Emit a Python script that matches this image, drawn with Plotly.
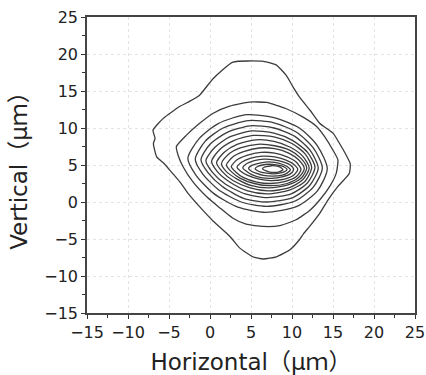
import plotly.graph_objects as go

# Contour lines (µm), outermost first
c1_x = [2.8, 0.4, -1.3, -2.5, -3.7, -5.7, -6.95, -6.7, -6.9, -6.5, -5.6, -4.9, -3.7, -2.7, -1.3, 0.4, 2.0, 2.7, 3.6, 5.2, 6.5, 8.1, 9.7, 10.9, 11.4, 12.15, 13.4, 14.4, 15.6, 17.0, 17.1, 16.6, 15.8, 15.0, 13.4, 12.2, 10.9, 10.1, 9.3, 8.1, 6.5, 2.8]
c1_y = [18.9, 16.7, 14.4, 13.6, 12.9, 11.3, 9.7, 8.6, 7.9, 6.1, 5.2, 4.3, 2.75, 1.2, -0.6, -2.6, -4.2, -5.0, -6.2, -7.4, -7.7, -7.4, -6.5, -5.1, -4.3, -3.3, -1.5, 0.3, 2.1, 3.9, 5.2, 6.35, 7.9, 9.3, 10.6, 12.4, 14.2, 15.6, 17.1, 18.5, 19.0, 18.9]
c2_x = [-4.1, -2.9, -1.3, 0.4, 2.4, 4.8, 6.9, 9.3, 11.3, 13.0, 14.0, 15.0, 15.6, 15.4, 14.6, 13.4, 12.2, 10.5, 8.5, 6.5, 4.4, 2.8, 1.2, -0.4, -2.1, -3.3, -3.9, -4.1]
c2_y = [7.5, 9.0, 10.6, 12.0, 12.95, 13.5, 13.45, 12.6, 11.5, 10.2, 8.8, 7.0, 5.7, 3.9, 2.1, 0.3, -1.1, -2.4, -3.2, -3.3, -3.0, -2.2, -0.8, 0.7, 2.75, 4.8, 6.35, 7.5]
c3_x = [-2.7, -1.3, 1.0, 4.4, 7.8, 10.9, 13.1, 14.3, 13.1, 10.6, 6.8, 3.4, 0.4, -1.7, -2.7]
c3_y = [5.9, 8.6, 10.6, 11.8, 11.4, 10.0, 7.6, 4.5, 1.5, -0.6, -1.4, -0.7, 1.2, 3.6, 5.9]
c4_x = [-1.8, -0.6, 1.6, 4.7, 7.8, 10.6, 12.6, 13.7, 12.6, 10.3, 6.9, 3.8, 1.0, -0.9, -1.8]
c4_y = [5.8, 8.2, 10.0, 11.0, 10.7, 9.4, 7.3, 4.6, 2.0, 0.1, -0.6, 0.0, 1.7, 3.8, 5.8]
c5_x = [-1.1, 0.0, 2.1, 4.9, 7.8, 10.3, 12.2, 13.2, 12.2, 10.1, 6.9, 4.1, 1.5, -0.2, -1.1]
c5_y = [5.7, 7.8, 9.4, 10.3, 10.0, 8.9, 7.0, 4.6, 2.3, 0.6, 0.0, 0.5, 2.1, 3.9, 5.7]
c6_x = [-0.5, 0.6, 2.4, 5.1, 7.8, 10.1, 11.9, 12.8, 11.9, 9.9, 7.0, 4.3, 1.9, 0.3, -0.5]
c6_y = [5.6, 7.4, 8.8, 9.6, 9.3, 8.3, 6.7, 4.7, 2.6, 1.1, 0.6, 1.1, 2.4, 4.0, 5.6]
c7_x = [0.2, 1.2, 2.9, 5.3, 7.8, 10.0, 11.6, 12.4, 11.6, 9.7, 7.0, 4.6, 2.4, 0.9, 0.2]
c7_y = [5.5, 7.1, 8.3, 9.0, 8.8, 7.9, 6.5, 4.7, 2.8, 1.6, 1.1, 1.5, 2.7, 4.1, 5.5]
c8_x = [0.8, 1.7, 3.3, 5.6, 7.8, 9.8, 11.3, 12.1, 11.3, 9.6, 7.1, 4.9, 2.8, 1.5, 0.8]
c8_y = [5.3, 6.7, 7.8, 8.4, 8.2, 7.4, 6.2, 4.6, 3.0, 1.9, 1.5, 1.9, 2.9, 4.1, 5.3]
c9_x = [1.4, 2.2, 3.7, 5.8, 7.9, 9.7, 11.1, 11.8, 11.1, 9.5, 7.2, 5.1, 3.3, 2.0, 1.4]
c9_y = [5.2, 6.4, 7.3, 7.8, 7.6, 7.0, 5.9, 4.6, 3.2, 2.3, 1.9, 2.2, 3.1, 4.1, 5.2]
c10_x = [2.0, 2.8, 4.1, 6.0, 7.9, 9.6, 10.8, 11.5, 10.8, 9.4, 7.3, 5.4, 3.7, 2.6, 2.0]
c10_y = [5.0, 6.1, 6.8, 7.3, 7.2, 6.6, 5.7, 4.5, 3.3, 2.5, 2.2, 2.5, 3.2, 4.1, 5.0]
c11_x = [2.6, 3.3, 4.5, 6.2, 7.9, 9.4, 10.5, 11.1, 10.5, 9.2, 7.4, 5.7, 4.1, 3.1, 2.6]
c11_y = [4.8, 5.7, 6.3, 6.7, 6.6, 6.1, 5.4, 4.4, 3.4, 2.8, 2.5, 2.7, 3.3, 4.1, 4.8]
c12_x = [3.3, 3.9, 4.9, 6.4, 7.9, 9.2, 10.2, 10.7, 10.2, 9.1, 7.4, 6.0, 4.6, 3.7, 3.3]
c12_y = [4.7, 5.4, 5.9, 6.2, 6.1, 5.7, 5.1, 4.4, 3.6, 3.1, 2.9, 3.1, 3.6, 4.2, 4.7]
c13_x = [4.0, 4.5, 5.4, 6.6, 7.8, 9.0, 9.8, 10.2, 9.8, 8.8, 7.5, 6.2, 5.1, 4.4, 4.0]
c13_y = [4.6, 5.2, 5.6, 5.8, 5.7, 5.4, 5.0, 4.4, 3.8, 3.4, 3.2, 3.3, 3.7, 4.2, 4.6]
c14_x = [4.7, 5.1, 5.8, 6.8, 7.9, 8.8, 9.4, 9.8, 9.4, 8.7, 7.6, 6.5, 5.6, 5.0, 4.7]
c14_y = [4.55, 4.95, 5.2, 5.4, 5.35, 5.1, 4.8, 4.35, 3.9, 3.6, 3.5, 3.6, 3.9, 4.2, 4.55]
c15_x = [5.5, 5.8, 6.4, 7.1, 7.9, 8.6, 9.1, 9.4, 9.1, 8.5, 7.7, 6.9, 6.2, 5.7, 5.5]
c15_y = [4.5, 4.8, 5.0, 5.1, 5.05, 4.9, 4.7, 4.4, 4.1, 3.9, 3.8, 3.9, 4.05, 4.3, 4.5]
c16_x = [6.4, 6.6, 7.0, 7.5, 8.0, 8.4, 8.7, 8.9, 8.7, 8.35, 7.8, 7.3, 6.85, 6.55, 6.4]
c16_y = [4.5, 4.7, 4.8, 4.9, 4.87, 4.77, 4.6, 4.4, 4.2, 4.05, 4.0, 4.05, 4.2, 4.35, 4.5]

contours = [(c1_x, c1_y), (c2_x, c2_y), (c3_x, c3_y), (c4_x, c4_y), (c5_x, c5_y),
            (c6_x, c6_y), (c7_x, c7_y), (c8_x, c8_y), (c9_x, c9_y), (c10_x, c10_y),
            (c11_x, c11_y), (c12_x, c12_y), (c13_x, c13_y), (c14_x, c14_y),
            (c15_x, c15_y), (c16_x, c16_y)]

axis_range = [-15, 25]
tick_vals = [-15, -10, -5, 0, 5, 10, 15, 20, 25]

fig = go.Figure()
for i, (xs, ys) in enumerate(contours):
    fig.add_trace(go.Scatter(
        x=xs, y=ys, mode="lines",
        line=dict(color="#3c3c3c", width=1.3, shape="spline",
                  smoothing=0.5 if i < 2 else 0.7),
        showlegend=False, hoverinfo="skip"))

axis_common = dict(
    range=axis_range, tickvals=tick_vals, ticks="outside", ticklen=4,
    tickwidth=1.2, tickcolor="#333", automargin=False,
    minor=dict(dtick=2.5, ticks="outside", ticklen=3, tickcolor="#333", showgrid=False),
    showline=True, linecolor="#444", linewidth=1.5, mirror=True,
    showgrid=True, gridcolor="#e3e3e3", griddash="dot", gridwidth=1,
    zeroline=False,
    tickfont=dict(family="DejaVu Sans", size=16, color="#222"),
)

title_font = dict(family="DejaVu Sans, Noto Sans CJK JP", size=23, color="#222")
fig.update_xaxes(**axis_common,
                 title=dict(text="Horizontal（μｍ）", standoff=13, font=title_font))
fig.update_yaxes(**axis_common,
                 title=dict(text="Vertical（μｍ）", standoff=10, font=title_font))

fig.update_layout(
    width=426, height=375,
    margin=dict(l=87, r=11, t=17, b=62, autoexpand=False),
    plot_bgcolor="white", paper_bgcolor="white",
)

fig.write_html("out.html", config={"displayModeBar": False},
               post_script="document.body.style.margin='0';document.body.style.overflow='hidden';")
